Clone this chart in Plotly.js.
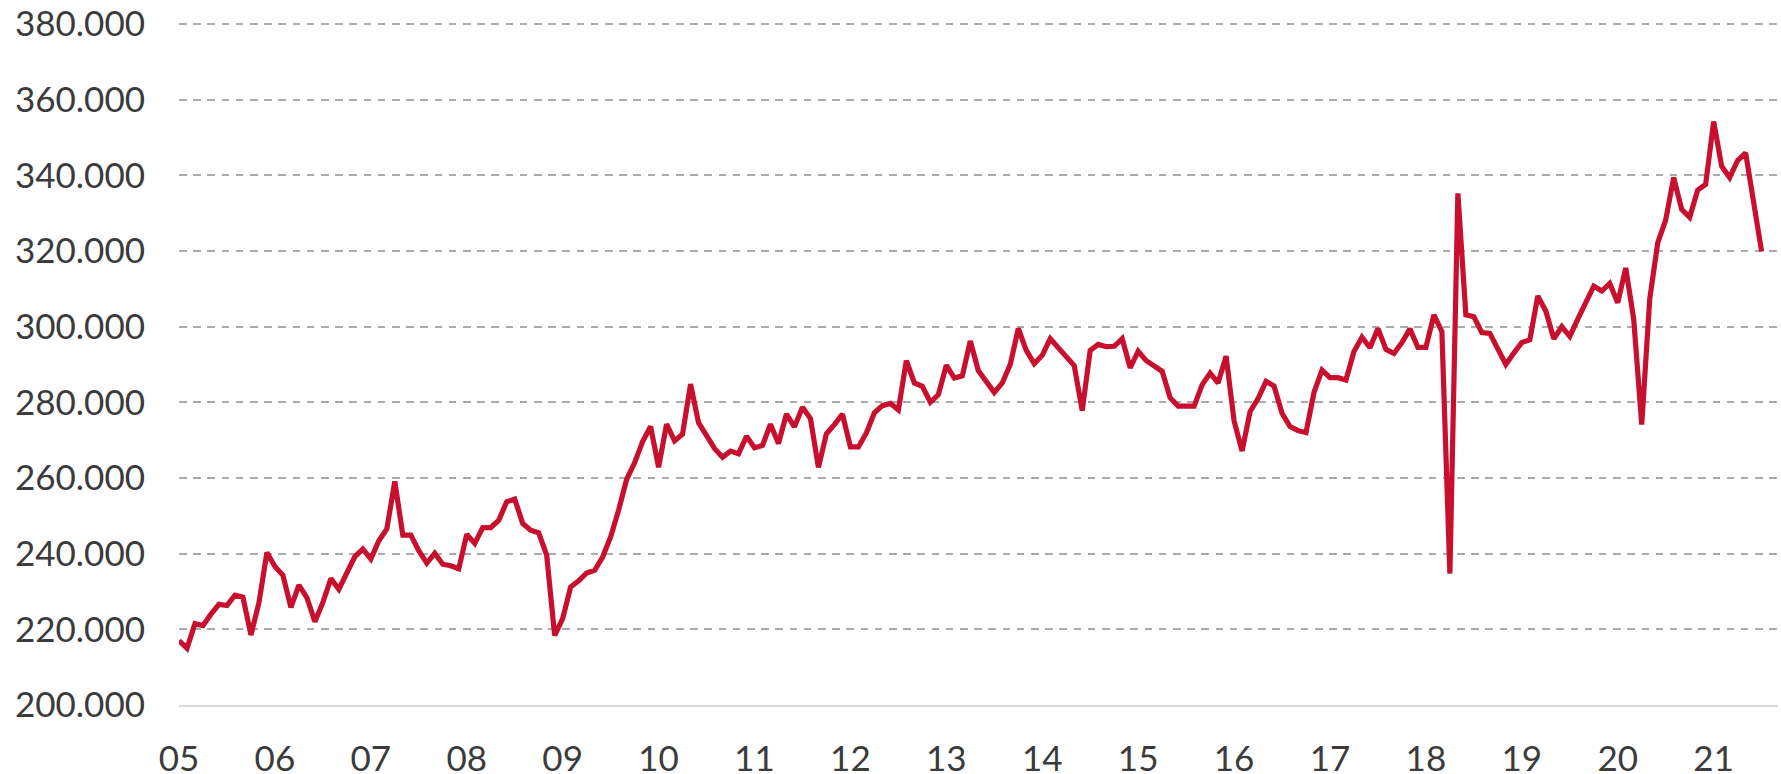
<!DOCTYPE html>
<html>
<head>
<meta charset="utf-8">
<script src="https://cdn.plot.ly/plotly-3.0.1.min.js"></script>
<style>
  html, body { margin: 0; padding: 0; background: #ffffff; }
  #chart { width: 1781px; height: 774px; }
</style>
</head>
<body>
<div id="chart"></div>
<script>
// Monthly series, January 2005 to July 2021 (one value per month)
const startYear = 2005;
const values = [
  // 2005
  217000, 215000, 221500, 221000, 224000, 226600, 226300, 229000, 228500, 218500, 227000, 240300,
  // 2006
  236600, 234300, 225800, 231700, 228400, 222000, 227100, 233400, 230600, 234800, 239200, 241200,
  // 2007
  238600, 243400, 246500, 259100, 244900, 244900, 240800, 237500, 240100, 237200, 236800, 236000,
  // 2008
  245100, 242700, 246900, 246900, 248800, 253700, 254400, 248000, 246200, 245500, 239600, 218400,
  // 2009
  222800, 231200, 232800, 234900, 235600, 239100, 244400, 251500, 259600, 264000, 269600, 273600,
  // 2010
  262800, 274200, 269800, 271600, 284800, 274600, 270900, 267800, 265500, 267100, 266400, 271000,
  // 2011
  268000, 268600, 274200, 269100, 276900, 273500, 278700, 275700, 262800, 271700, 274100, 276900,
  // 2012
  268200, 268200, 271900, 277200, 279100, 279700, 278000, 291000, 285100, 284200, 280000, 282000,
  // 2013
  289800, 286400, 287000, 296200, 288400, 285200, 282600, 285100, 290000, 299500, 293700, 290200,
  // 2014
  292400, 296800, 294400, 291900, 289700, 277800, 293700, 295300, 294700, 294800, 296800, 289100,
  // 2015
  293500, 291000, 289700, 288200, 281200, 279000, 279000, 279000, 284600, 287700, 285100, 292200,
  // 2016
  275100, 267100, 277500, 281000, 285500, 284300, 277100, 273600, 272500, 272000, 282600, 288500,
  // 2017
  286500, 286500, 285900, 293400, 297200, 294400, 299500, 294000, 292900, 295800, 299400, 294500,
  // 2018
  294500, 303100, 298700, 234700, 335200, 303100, 302600, 298400, 298200, 294300, 290000, 293000,
  // 2019
  295800, 296500, 308100, 304100, 296800, 300000, 297400, 302000, 306600, 310700, 309400, 311400,
  // 2020
  306300, 315500, 301900, 274100, 307200, 322100, 328200, 339400, 331000, 328900, 336100, 337600,
  // 2021
  354200, 342400, 339400, 343900, 345900, 332100, 319900
];
const yearLabels = ["05","06","07","08","09","10","11","12","13","14","15","16","17","18","19","20","21"];
const yTicks = [200000, 220000, 240000, 260000, 280000, 300000, 320000, 340000, 360000, 380000];

const xIndex = values.map((_, i) => i);
const yearTickPos = yearLabels.map((_, i) => i * 12);

const trace = {
  x: xIndex,
  y: values,
  type: 'scatter',
  mode: 'lines',
  line: { color: '#C8102E', width: 5.2 },
  hoverinfo: 'skip'
};

const layout = {
  width: 1781,
  height: 774,
  margin: { l: 179, r: 3, t: 22, b: 69 },
  paper_bgcolor: '#ffffff',
  plot_bgcolor: '#ffffff',
  separators: ',.',
  showlegend: false,
  font: { family: 'Lato, "Open Sans", sans-serif', size: 35, color: '#3b3b3b' },
  xaxis: {
    range: [0, 200.05],
    tickmode: 'array',
    tickvals: yearTickPos,
    ticktext: yearLabels,
    showgrid: false,
    zeroline: false,
    showline: true,
    linecolor: '#d9d9d9',
    linewidth: 2,
    ticks: '',
    ticklabelstandoff: 22,
    fixedrange: true
  },
  yaxis: {
    range: [200000, 380500],
    tickmode: 'array',
    tickvals: yTicks,
    tickformat: ',.0f',
    showgrid: true,
    gridcolor: '#ababab',
    gridwidth: 2,
    griddash: '7.5px,6.7px',
    zeroline: false,
    showline: false,
    ticks: '',
    ticklabelstandoff: 33,
    fixedrange: true
  }
};

Plotly.newPlot('chart', [trace], layout, { displayModeBar: false, staticPlot: true });
</script>
</body>
</html>
